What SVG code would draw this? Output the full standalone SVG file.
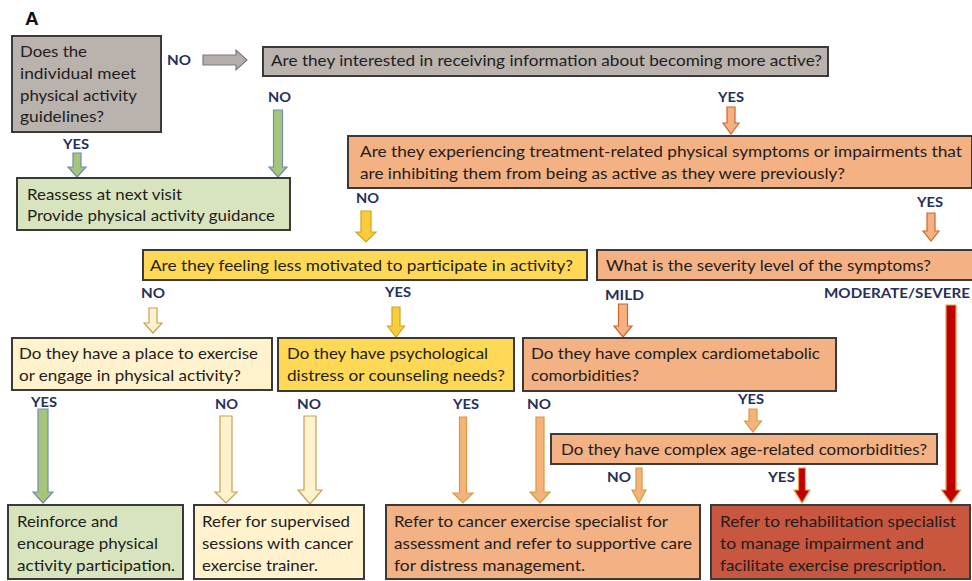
<svg xmlns="http://www.w3.org/2000/svg" width="972" height="581" viewBox="0 0 972 581">
<style>
.box{stroke:#3a3a3a;stroke-width:2}
.gray{fill:#b9b2ad}
.green{fill:#d7e4bd}
.orange{fill:#f4b183}
.yellow{fill:#ffd955}
.ltyel{fill:#fff2cc}
.red{fill:#c9573f}
.t{font-family:Lato,"Liberation Sans",sans-serif;font-size:15px;fill:#231d1d}
.lb{font-family:Lato,"Liberation Sans",sans-serif;font-size:14px;font-weight:bold;fill:#26305a}
.a-gray{fill:#b5aeaa;stroke:#7f7a78;stroke-width:1.2}
.a-green{fill:#a6c47a;stroke:#6e8fb0;stroke-width:1.2}
.a-orange{fill:#f4b183;stroke:#d0652a;stroke-width:1.2}
.a-gold{fill:#f8cc3a;stroke:#d2a21c;stroke-width:1.2}
.a-ltyel{fill:#fff2cc;stroke:#c9a050;stroke-width:1.2}
.a-tan{fill:#f4b37a;stroke:#d99a40;stroke-width:1.2}
.a-red{fill:#c00000;stroke:#eda050;stroke-width:1.2}
</style>
<text x="25" y="25" font-family="Liberation Sans,sans-serif" font-size="19" font-weight="bold" fill="#111111">A</text>

<g id="connectors">
<polygon class="a-gray" points="203,55 236,55 236,50 247,60 236,70 236,65 203,65"/>
<polygon class="a-green" points="73,153 81,153 81,167 86,167 77,177 68,167 73,167"/>
<polygon class="a-green" points="273.5,110 282.5,110 282.5,167 287,167 278,177 269,167 273.5,167"/>
<polygon class="a-orange" points="727,107 735,107 735,123 739,123 731,134 723,123 727,123"/>
<polygon class="a-gold" points="361,211 371,211 371,232 376,232 366,242 356,232 361,232"/>
<polygon class="a-orange" points="927,213 935,213 935,231 939,231 931,241 923,231 927,231"/>
<polygon class="a-ltyel" points="149,308 157,308 157,323 162,323 153,333 144,323 149,323"/>
<polygon class="a-gold" points="392,307 400,307 400,326 404.5,326 396,337 387.5,326 392,326"/>
<polygon class="a-orange" points="618.5,304 627.5,304 627.5,326 632,326 623,337 614,326 618.5,326"/>
<polygon class="a-red" points="946,305 956,305 956,490 960.5,490 951,503 941.5,490 946,490"/>
<polygon class="a-green" points="38,409 48,409 48,492 53,492 43,503 33,492 38,492"/>
<polygon class="a-ltyel" points="220,416 232,416 232,492 237,492 226,503 215,492 220,492"/>
<polygon class="a-ltyel" points="304,416 316,416 316,490 322,490 310,504 298,490 304,490"/>
<polygon class="a-tan" points="459.5,417 466.5,417 466.5,493 473,493 463,503 453,493 459.5,493"/>
<polygon class="a-tan" points="536,417 544,417 544,492 550,492 540,503 530,492 536,492"/>
<polygon class="a-tan" points="749,409 757,409 757,421 761.5,421 753,432 744.5,421 749,421"/>
<polygon class="a-tan" points="636,468 642,468 642,490 646,490 639,503 632,490 636,490"/>
<polygon class="a-red" points="798.5,468 805.5,468 805.5,490 810,490 802,503 794,490 798.5,490"/>
</g>

<g id="labels">
<text class="lb" x="167" y="65" textLength="24" lengthAdjust="spacingAndGlyphs">NO</text>
<text class="lb" x="268" y="102" textLength="23" lengthAdjust="spacingAndGlyphs">NO</text>
<text class="lb" x="63" y="149" textLength="26" lengthAdjust="spacingAndGlyphs">YES</text>
<text class="lb" x="718" y="102" textLength="26" lengthAdjust="spacingAndGlyphs">YES</text>
<text class="lb" x="356" y="203" textLength="23" lengthAdjust="spacingAndGlyphs">NO</text>
<text class="lb" x="917" y="207" textLength="26" lengthAdjust="spacingAndGlyphs">YES</text>
<text class="lb" x="141" y="298" textLength="24" lengthAdjust="spacingAndGlyphs">NO</text>
<text class="lb" x="385" y="297" textLength="26" lengthAdjust="spacingAndGlyphs">YES</text>
<text class="lb" x="605" y="300" textLength="39" lengthAdjust="spacingAndGlyphs">MILD</text>
<text class="lb" x="824" y="298" textLength="146" lengthAdjust="spacingAndGlyphs">MODERATE/SEVERE</text>
<text class="lb" x="31" y="407" textLength="26" lengthAdjust="spacingAndGlyphs">YES</text>
<text class="lb" x="215" y="409" textLength="23" lengthAdjust="spacingAndGlyphs">NO</text>
<text class="lb" x="297" y="409" textLength="24" lengthAdjust="spacingAndGlyphs">NO</text>
<text class="lb" x="453" y="409" textLength="26" lengthAdjust="spacingAndGlyphs">YES</text>
<text class="lb" x="527" y="409" textLength="24" lengthAdjust="spacingAndGlyphs">NO</text>
<text class="lb" x="738" y="404" textLength="26" lengthAdjust="spacingAndGlyphs">YES</text>
<text class="lb" x="607" y="482" textLength="24" lengthAdjust="spacingAndGlyphs">NO</text>
<text class="lb" x="768" y="482" textLength="27" lengthAdjust="spacingAndGlyphs">YES</text>
</g>

<g id="node-meet-guidelines">
<rect class="box gray" x="12" y="36" width="149" height="96"/>
<text class="t" x="20" y="57" textLength="67" lengthAdjust="spacingAndGlyphs">Does the</text>
<text class="t" x="20" y="79" textLength="116" lengthAdjust="spacingAndGlyphs">individual meet</text>
<text class="t" x="20" y="101" textLength="117" lengthAdjust="spacingAndGlyphs">physical activity</text>
<text class="t" x="20" y="122" textLength="84" lengthAdjust="spacingAndGlyphs">guidelines?</text>
</g>

<g id="node-interested">
<rect class="box gray" x="263" y="47" width="565" height="29"/>
<text class="t" x="271" y="66" textLength="551" lengthAdjust="spacingAndGlyphs">Are they interested in receiving information about becoming more active?</text>
</g>

<g id="node-reassess">
<rect class="box green" x="17" y="178" width="273" height="52"/>
<text class="t" x="27" y="200" textLength="155" lengthAdjust="spacingAndGlyphs">Reassess at next visit</text>
<text class="t" x="27" y="221" textLength="248" lengthAdjust="spacingAndGlyphs">Provide physical activity guidance</text>
</g>

<g id="node-symptoms">
<rect class="box orange" x="348" y="136" width="624" height="52"/>
<text class="t" x="360" y="157" textLength="602" lengthAdjust="spacingAndGlyphs">Are they experiencing treatment-related physical symptoms or impairments that</text>
<text class="t" x="360" y="179" textLength="485" lengthAdjust="spacingAndGlyphs">are inhibiting them from being as active as they were previously?</text>
</g>

<g id="node-motivated">
<rect class="box yellow" x="143" y="250" width="444" height="30"/>
<text class="t" x="150" y="271" textLength="423" lengthAdjust="spacingAndGlyphs">Are they feeling less motivated to participate in activity?</text>
</g>

<g id="node-severity">
<rect class="box orange" x="597" y="250" width="377" height="30"/>
<text class="t" x="606" y="271" textLength="325" lengthAdjust="spacingAndGlyphs">What is the severity level of the symptoms?</text>
</g>

<g id="node-place">
<rect class="box ltyel" x="12" y="338" width="260" height="52"/>
<text class="t" x="19" y="359" textLength="239" lengthAdjust="spacingAndGlyphs">Do they have a place to exercise</text>
<text class="t" x="19" y="381" textLength="222" lengthAdjust="spacingAndGlyphs">or engage in physical activity?</text>
</g>

<g id="node-psych">
<rect class="box yellow" x="278" y="338" width="236" height="53"/>
<text class="t" x="287" y="359" textLength="201" lengthAdjust="spacingAndGlyphs">Do they have psychological</text>
<text class="t" x="287" y="381" textLength="218" lengthAdjust="spacingAndGlyphs">distress or counseling needs?</text>
</g>

<g id="node-cardio">
<rect class="box orange" x="523" y="338" width="313" height="53"/>
<text class="t" x="531" y="359" textLength="289" lengthAdjust="spacingAndGlyphs">Do they have complex cardiometabolic</text>
<text class="t" x="531" y="381" textLength="108" lengthAdjust="spacingAndGlyphs">comorbidities?</text>
</g>

<g id="node-age">
<rect class="box orange" x="551" y="434" width="386" height="30"/>
<text class="t" x="561" y="455" textLength="366" lengthAdjust="spacingAndGlyphs">Do they have complex age-related comorbidities?</text>
</g>

<g id="node-reinforce">
<rect class="box green" x="8" y="505" width="175" height="74"/>
<text class="t" x="17" y="527" textLength="101" lengthAdjust="spacingAndGlyphs">Reinforce and</text>
<text class="t" x="17" y="549" textLength="141" lengthAdjust="spacingAndGlyphs">encourage physical</text>
<text class="t" x="17" y="571" textLength="158" lengthAdjust="spacingAndGlyphs">activity participation.</text>
</g>

<g id="node-supervised">
<rect class="box ltyel" x="194" y="505" width="170" height="74"/>
<text class="t" x="202" y="527" textLength="148" lengthAdjust="spacingAndGlyphs">Refer for supervised</text>
<text class="t" x="202" y="549" textLength="151" lengthAdjust="spacingAndGlyphs">sessions with cancer</text>
<text class="t" x="202" y="571" textLength="116" lengthAdjust="spacingAndGlyphs">exercise trainer.</text>
</g>

<g id="node-exercise-specialist">
<rect class="box orange" x="386" y="505" width="314" height="74"/>
<text class="t" x="394" y="527" textLength="274" lengthAdjust="spacingAndGlyphs">Refer to cancer exercise specialist for</text>
<text class="t" x="394" y="549" textLength="298" lengthAdjust="spacingAndGlyphs">assessment and refer to supportive care</text>
<text class="t" x="394" y="571" textLength="191" lengthAdjust="spacingAndGlyphs">for distress management.</text>
</g>

<g id="node-rehab">
<rect class="box red" x="711" y="505" width="259" height="74"/>
<text class="t" x="720" y="527" textLength="236" lengthAdjust="spacingAndGlyphs">Refer to rehabilitation specialist</text>
<text class="t" x="720" y="549" textLength="204" lengthAdjust="spacingAndGlyphs">to manage impairment and</text>
<text class="t" x="720" y="571" textLength="226" lengthAdjust="spacingAndGlyphs">facilitate exercise prescription.</text>
</g>
</svg>
